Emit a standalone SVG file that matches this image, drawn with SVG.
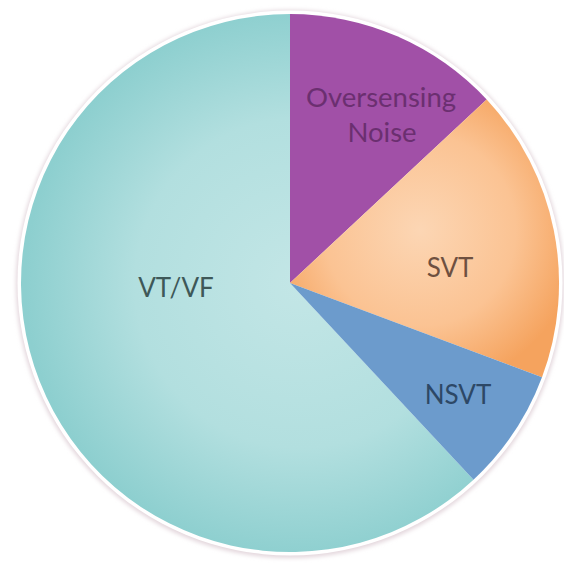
<svg xmlns="http://www.w3.org/2000/svg" width="564" height="566" viewBox="0 0 564 566">
<defs>
<radialGradient id="gTeal" cx="300" cy="283" r="275" gradientUnits="userSpaceOnUse">
<stop offset="0" stop-color="#c3e6e6"/>
<stop offset="0.6" stop-color="#b2dfdf"/>
<stop offset="1" stop-color="#8dcfcf"/>
</radialGradient>
<radialGradient id="gOrange" cx="420" cy="230" r="160" gradientUnits="userSpaceOnUse">
<stop offset="0" stop-color="#fcd6b4"/>
<stop offset="0.6" stop-color="#fbc393"/>
<stop offset="1" stop-color="#f5a35e"/>
</radialGradient>
<filter id="sh" x="-10%" y="-10%" width="120%" height="120%">
<feGaussianBlur stdDeviation="2"/>
</filter>
<style>
.lbl{font-family:Lato,"Open Sans",sans-serif;font-size:26px;text-anchor:middle}
.big{font-size:27.5px}
</style>
</defs>
<rect width="564" height="566" fill="#ffffff"/>
<circle cx="290" cy="284" r="274" fill="#e3d6dc" filter="url(#sh)"/>
<circle cx="290" cy="283" r="272.5" fill="#ffffff"/>
<g id="vtvf">
<path d="M290,283 L473.5,479.7 A269,269 0 1 1 290,14 Z" fill="url(#gTeal)"/>
<text class="lbl" x="176" y="297" fill="#3e5858">VT/VF</text>
</g>
<g id="oversensing">
<path d="M290,283 L290,14 A269,269 0 0 1 486.7,99.5 Z" fill="#a150a7"/>
<text class="lbl big" x="381" y="107" fill="#6b2f70">Oversensing</text>
<text class="lbl big" x="382" y="142" fill="#6b2f70">Noise</text>
</g>
<g id="svt">
<path d="M290,283 L486.7,99.5 A269,269 0 0 1 542,377.2 Z" fill="url(#gOrange)"/>
<text class="lbl" x="450" y="277" fill="#6e5040">SVT</text>
</g>
<g id="nsvt">
<path d="M290,283 L542,377.2 A269,269 0 0 1 473.5,479.7 Z" fill="#6c9bcc"/>
<text class="lbl" x="458" y="404" fill="#2d4866">NSVT</text>
</g>
<g id="connectors"/>
</svg>
